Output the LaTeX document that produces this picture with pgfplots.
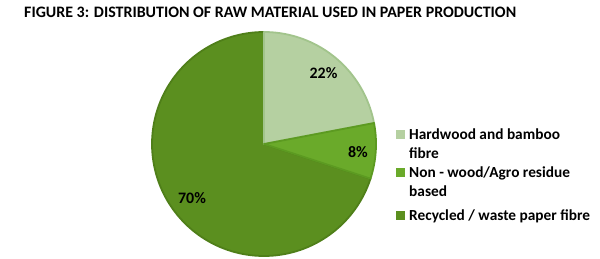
\documentclass[border=0pt]{standalone}
\usepackage{pgfplots}
\pgfplotsset{compat=1.18}
\usepackage{fontspec}
\setmainfont{Carlito}
\definecolor{cLight}{HTML}{B5D0A1}
\definecolor{cLightB}{HTML}{A2C48C}
\definecolor{cMid}{HTML}{6AAA2A}
\definecolor{cMidB}{HTML}{5C9A21}
\definecolor{cDark}{HTML}{5B8F1F}
\definecolor{cDarkB}{HTML}{4F7F19}
% data: shares in percent
\def\vA{22}\def\vB{8}\def\vC{70}
\def\cx{264}\def\cy{114}\def\rr{112}
\begin{document}
\begin{tikzpicture}
\begin{axis}[
  scale only axis, width=600bp, height=258bp,
  xmin=0, xmax=600, ymin=0, ymax=258,
  hide axis, clip=false,
  every axis plot/.append style={line join=round},
]
\path (rel axis cs:0,0) rectangle (rel axis cs:1,1);
\pgfmathsetmacro{\aA}{90}
\pgfmathsetmacro{\aB}{90-3.6*\vA}
\pgfmathsetmacro{\aC}{\aB-3.6*\vB}
\pgfmathsetmacro{\aD}{\aC-3.6*\vC}
\addplot[fill=cDark, draw=cDarkB, line width=1.8bp, domain=\aC:\aD, samples=120, variable=\t]
  ({\cx+\rr*cos(\t)},{\cy+\rr*sin(\t)}) -- (axis cs:\cx,\cy) -- cycle;
\addplot[fill=cLight, draw=cLightB, line width=1.8bp, domain=\aA:\aB, samples=50, variable=\t]
  ({\cx+\rr*cos(\t)},{\cy+\rr*sin(\t)}) -- (axis cs:\cx,\cy) -- cycle;
\addplot[fill=cMid, draw=cMidB, line width=1.8bp, domain=\aB:\aC, samples=30, variable=\t]
  ({\cx+\rr*cos(\t)},{\cy+\rr*sin(\t)}) -- (axis cs:\cx,\cy) -- cycle;
% slice labels
\tikzset{lbl/.style={font=\bfseries\fontsize{16}{18}\selectfont, inner sep=0pt}}
\node[lbl] at (axis cs:323.5,185) {22\%};
\node[lbl] at (axis cs:358,105.5) {8\%};
\node[lbl] at (axis cs:192,60) {70\%};
% title
\node[anchor=base west, inner sep=0pt, font=\bfseries\fontsize{16}{18}\selectfont] at (axis cs:24,240) {FIGURE 3: DISTRIBUTION OF RAW MATERIAL USED IN PAPER PRODUCTION};
% legend
\fill[cLight] (axis cs:396,119.5) rectangle (axis cs:405,128.5);
\fill[cMid] (axis cs:396,80.8) rectangle (axis cs:405,89.8);
\fill[cDark] (axis cs:396,37.8) rectangle (axis cs:405,46.8);
\tikzset{leg/.style={anchor=base west, inner sep=0pt, font=\bfseries\fontsize{15.4}{18}\selectfont}}
\node[leg] at (axis cs:409,119) {Hardwood and bamboo};
\node[leg] at (axis cs:409,100) {fibre};
\node[leg] at (axis cs:409,80.3) {Non - wood/Agro residue};
\node[leg] at (axis cs:409,61.3) {based};
\node[leg] at (axis cs:409,37.3) {Recycled / waste paper fibre};
\end{axis}
\end{tikzpicture}
\end{document}
